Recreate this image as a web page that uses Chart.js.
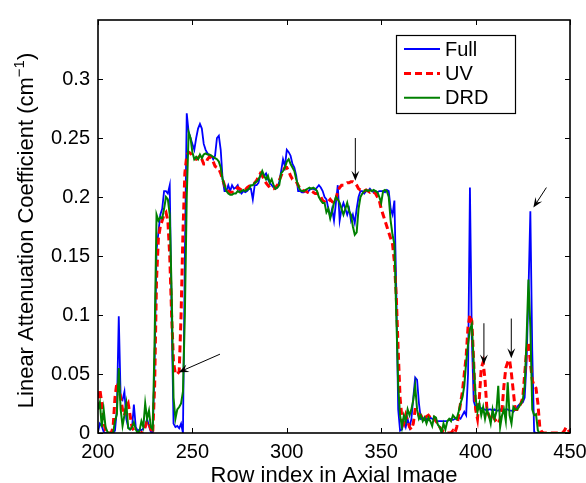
<!DOCTYPE html>
<html>
<head>
<meta charset="utf-8">
<title>Linear attenuation profile</title>
<script src="https://cdn.jsdelivr.net/npm/chart.js@4.4.1/dist/chart.umd.min.js"></script>
<style>
  html, body { margin: 0; padding: 0; background: #fff; }
  #wrap { width: 586px; height: 483px; }
</style>
</head>
<body>
<div id="wrap"><canvas id="profileChart" width="586" height="483"></canvas></div>
<script>
const firstRow = 200;

const fullValues = [
  0.001, 0.008, 0.006, 0.001, 0.0, 0.0, 0.0, 0.001, 0.0, 0.002, // 200
  0.02, 0.099, 0.03, 0.028, 0.035, 0.012, 0.005, 0.003, 0.004, 0.024, // 210
  0.005, 0.002, 0.003, 0.002, 0.004, 0.006, 0.012, 0.006, 0.001, 0.0, // 220
  0.06, 0.155, 0.17, 0.185, 0.19, 0.205, 0.205, 0.203, 0.21, 0.1, // 230
  0.008, 0.005, 0.006, 0.004, 0.008, 0.0, 0.15, 0.271, 0.255, 0.25, // 240
  0.245, 0.24, 0.25, 0.258, 0.262, 0.258, 0.245, 0.24, 0.237, 0.235, // 250
  0.235, 0.232, 0.235, 0.25, 0.252, 0.24, 0.215, 0.205, 0.205, 0.21, // 260
  0.205, 0.21, 0.207, 0.208, 0.21, 0.205, 0.203, 0.205, 0.204, 0.205, // 270
  0.207, 0.207, 0.198, 0.21, 0.21, 0.212, 0.219, 0.22, 0.218, 0.22, // 280
  0.215, 0.212, 0.21, 0.208, 0.207, 0.208, 0.213, 0.222, 0.232, 0.226, // 290
  0.24, 0.238, 0.235, 0.228, 0.225, 0.218, 0.205, 0.205, 0.204, 0.204, // 300
  0.205, 0.204, 0.206, 0.207, 0.207, 0.206, 0.208, 0.21, 0.208, 0.205, // 310
  0.2, 0.198, 0.19, 0.183, 0.19, 0.18, 0.195, 0.21, 0.18, 0.19, // 320
  0.195, 0.19, 0.185, 0.19, 0.18, 0.185, 0.178, 0.19, 0.2, 0.205, // 330
  0.205, 0.203, 0.205, 0.205, 0.207, 0.205, 0.204, 0.205, 0.204, 0.205, // 340
  0.205, 0.205, 0.204, 0.206, 0.205, 0.19, 0.185, 0.197, 0.12, 0.02, // 350
  0.002, 0.003, 0.01, 0.005, 0.012, 0.005, 0.012, 0.03, 0.047, 0.045, // 360
  0.025, 0.012, 0.013, 0.011, 0.012, 0.011, 0.013, 0.012, 0.011, 0.01, // 370
  0.01, 0.01, 0.01, 0.01, 0.01, 0.01, 0.011, 0.012, 0.011, 0.012, // 380
  0.012, 0.013, 0.012, 0.015, 0.018, 0.015, 0.05, 0.208, 0.08, 0.027, // 390
  0.022, 0.024, 0.022, 0.021, 0.02, 0.02, 0.019, 0.02, 0.02, 0.019, // 400
  0.02, 0.019, 0.019, 0.02, 0.019, 0.019, 0.02, 0.02, 0.019, 0.019, // 410
  0.018, 0.02, 0.022, 0.024, 0.025, 0.026, 0.03, 0.06, 0.12, 0.188, // 420
  0.07, 0.001, 0, 0, 0, 0, 0, 0, 0, 0, // 430
  0, 0, 0, 0, 0, 0, 0, 0, 0, 0, // 440
  0 // 450
];

const uvValues = [
  0.02, 0.037, 0.025, 0.01, 0.002, 0.0, 0.0, 0.0, 0.005, 0.03, // 200
  0.043, 0.04, 0.03, 0.02, 0.015, 0.022, 0.025, 0.015, 0.005, 0.002, // 210
  0.0, 0.0, 0.0, 0.0, 0.002, 0.005, 0.01, 0.008, 0.003, 0.0, // 220
  0.04, 0.13, 0.165, 0.175, 0.18, 0.185, 0.187, 0.18, 0.15, 0.1, // 230
  0.06, 0.05, 0.05, 0.052, 0.1, 0.17, 0.22, 0.235, 0.238, 0.237, // 240
  0.235, 0.233, 0.232, 0.233, 0.235, 0.232, 0.228, 0.228, 0.232, 0.234, // 250
  0.233, 0.23, 0.226, 0.225, 0.224, 0.22, 0.215, 0.21, 0.206, 0.205, // 260
  0.204, 0.204, 0.204, 0.206, 0.208, 0.207, 0.206, 0.205, 0.206, 0.208, // 270
  0.209, 0.21, 0.211, 0.212, 0.214, 0.217, 0.22, 0.218, 0.215, 0.212, // 280
  0.21, 0.208, 0.207, 0.207, 0.208, 0.21, 0.214, 0.218, 0.222, 0.225, // 290
  0.225, 0.222, 0.218, 0.215, 0.214, 0.213, 0.21, 0.207, 0.206, 0.205, // 300
  0.205, 0.204, 0.205, 0.205, 0.204, 0.203, 0.203, 0.202, 0.2, 0.197, // 310
  0.196, 0.195, 0.196, 0.198, 0.196, 0.195, 0.198, 0.205, 0.208, 0.21, // 320
  0.21, 0.211, 0.212, 0.212, 0.213, 0.213, 0.212, 0.21, 0.207, 0.206, // 330
  0.206, 0.205, 0.206, 0.205, 0.204, 0.205, 0.204, 0.203, 0.2, 0.197, // 340
  0.19, 0.185, 0.18, 0.175, 0.17, 0.165, 0.16, 0.145, 0.115, 0.07, // 350
  0.03, 0.012, 0.008, 0.015, 0.01, 0.005, 0.003, 0.008, 0.02, 0.02, // 360
  0.015, 0.015, 0.012, 0.013, 0.014, 0.015, 0.013, 0.012, 0.013, 0.01, // 370
  0.008, 0.005, 0.003, 0.001, 0.0, 0.0, 0.0, 0.0, 0.002, 0.0, // 380
  0.005, 0.015, 0.025, 0.035, 0.05, 0.065, 0.09, 0.1, 0.095, 0.06, // 390
  0.02, 0.012, 0.03, 0.055, 0.06, 0.045, 0.02, 0.015, 0.012, 0.015, // 400
  0.012, 0.01, 0.008, 0.012, 0.02, 0.04, 0.055, 0.06, 0.062, 0.05, // 410
  0.035, 0.02, 0.02, 0.022, 0.025, 0.03, 0.05, 0.07, 0.077, 0.06, // 420
  0.045, 0.04, 0.038, 0.025, 0.005, 0.001, 0, 0, 0, 0, // 430
  0, 0, 0, 0, 0, 0, 0, 0.002, 0.005, 0.003, // 440
  0 // 450
];

const drdValues = [
  0.02, 0.026, 0.005, 0.02, 0.005, 0.001, 0.0, 0.0, 0.0, 0.01, // 200
  0.016, 0.055, 0.02, 0.006, 0.015, 0.025, 0.004, 0.003, 0.005, 0.009, // 210
  0.003, 0.0, 0.002, 0.01, 0.005, 0.025, 0.012, 0.019, 0.005, 0.003, // 220
  0.08, 0.185, 0.18, 0.183, 0.182, 0.19, 0.2, 0.198, 0.185, 0.12, // 230
  0.03, 0.012, 0.02, 0.022, 0.025, 0.035, 0.1, 0.2, 0.255, 0.25, // 240
  0.238, 0.232, 0.234, 0.232, 0.236, 0.233, 0.236, 0.237, 0.236, 0.236, // 250
  0.235, 0.234, 0.233, 0.232, 0.23, 0.225, 0.215, 0.21, 0.205, 0.203, // 260
  0.202, 0.202, 0.203, 0.203, 0.205, 0.204, 0.205, 0.206, 0.205, 0.206, // 270
  0.207, 0.21, 0.21, 0.212, 0.213, 0.215, 0.218, 0.222, 0.218, 0.215, // 280
  0.218, 0.212, 0.215, 0.21, 0.207, 0.208, 0.21, 0.22, 0.222, 0.225, // 290
  0.23, 0.232, 0.228, 0.225, 0.222, 0.215, 0.21, 0.206, 0.205, 0.205, // 300
  0.206, 0.207, 0.208, 0.207, 0.208, 0.207, 0.205, 0.2, 0.197, 0.195, // 310
  0.195, 0.187, 0.19, 0.182, 0.188, 0.195, 0.2, 0.198, 0.195, 0.19, // 320
  0.185, 0.19, 0.195, 0.188, 0.185, 0.175, 0.168, 0.17, 0.19, 0.2, // 330
  0.203, 0.205, 0.206, 0.205, 0.206, 0.205, 0.206, 0.205, 0.204, 0.2, // 340
  0.195, 0.205, 0.206, 0.205, 0.2, 0.18, 0.168, 0.16, 0.1, 0.04, // 350
  0.015, 0.005, 0.015, 0.01, 0.02, 0.015, 0.02, 0.028, 0.04, 0.02, // 360
  0.012, 0.015, 0.01, 0.013, 0.008, 0.013, 0.01, 0.006, 0.014, 0.013, // 370
  0.007, 0.005, 0.0, 0.008, 0.003, 0.01, 0.012, 0.01, 0.015, 0.013, // 380
  0.012, 0.018, 0.025, 0.03, 0.04, 0.06, 0.075, 0.088, 0.092, 0.06, // 390
  0.03, 0.018, 0.025, 0.015, 0.022, 0.012, 0.02, 0.015, 0.008, 0.02, // 400
  0.012, 0.018, 0.04, 0.005, 0.015, 0.02, 0.01, 0.043, 0.015, 0.008, // 410
  0.022, 0.02, 0.02, 0.022, 0.025, 0.028, 0.04, 0.08, 0.13, 0.09, // 420
  0.02, 0.015, 0.016, 0.002, 0, 0, 0, 0, 0, 0, // 430
  0, 0, 0, 0, 0, 0, 0, 0, 0, 0, // 440
  0 // 450
];

const seriesNames = ["Full", "UV", "DRD"];
const xTicks = [200, 250, 300, 350, 400, 450];
const yTicks = [0, 0.05, 0.1, 0.15, 0.2, 0.25, 0.3];
const yMax = 0.35;

// annotation arrows: [tailX, tailY, headX, headY] in data units
const arrows = [
  [264.6, 0.0668, 242.8, 0.0515],
  [336.3, 0.25, 336.3, 0.2137],
  [404.4, 0.093, 404.4, 0.058],
  [418.9, 0.097, 418.9, 0.0634],
  [437.5, 0.208, 430.6, 0.191],
];

const rows = fullValues.map((_, i) => firstRow + i);
const toPoints = (vals) => vals.map((v, i) => ({ x: rows[i], y: v }));

const FONT = "'Liberation Sans', Arial, Helvetica, sans-serif";
Chart.defaults.font.family = FONT;
Chart.defaults.color = "#000";

function drawArrow(ctx, x1, y1, x2, y2) {
  const ang = Math.atan2(y2 - y1, x2 - x1);
  const len = 10, half = 4;
  const bx = x2 - len * Math.cos(ang), by = y2 - len * Math.sin(ang);
  const nx = -Math.sin(ang), ny = Math.cos(ang);
  ctx.beginPath();
  ctx.moveTo(x1, y1);
  ctx.lineTo(x2 - 4 * Math.cos(ang), y2 - 4 * Math.sin(ang));
  ctx.stroke();
  ctx.beginPath();
  ctx.moveTo(x2, y2);
  ctx.lineTo(bx + half * nx, by + half * ny);
  ctx.lineTo(x2 - 6 * Math.cos(ang), y2 - 6 * Math.sin(ang));
  ctx.lineTo(bx - half * nx, by - half * ny);
  ctx.closePath();
  ctx.fill();
}

const framePlugin = {
  id: "frame",
  afterDatasetsDraw(chart) {
    const { ctx, chartArea: a, scales: { x, y } } = chart;
    ctx.save();
    ctx.strokeStyle = "#000";
    ctx.fillStyle = "#000";

    // inward tick marks on all four sides
    ctx.lineWidth = 1;
    ctx.beginPath();
    xTicks.forEach((t) => {
      const px = Math.round(x.getPixelForValue(t)) + 0.5;
      ctx.moveTo(px, a.bottom); ctx.lineTo(px, a.bottom - 5);
      ctx.moveTo(px, a.top); ctx.lineTo(px, a.top + 5);
    });
    yTicks.forEach((t) => {
      const py = Math.round(y.getPixelForValue(t)) + 0.5;
      ctx.moveTo(a.left, py); ctx.lineTo(a.left + 5, py);
      ctx.moveTo(a.right, py); ctx.lineTo(a.right - 5, py);
    });
    ctx.stroke();

    ctx.lineWidth = 1.6;
    ctx.strokeRect(a.left, a.top, a.right - a.left, a.bottom - a.top);

    // arrows
    ctx.lineWidth = 1;
    arrows.forEach(([tx, ty, hx, hy]) => {
      drawArrow(ctx, x.getPixelForValue(tx), y.getPixelForValue(ty),
        x.getPixelForValue(hx), y.getPixelForValue(hy));
    });

    // legend box
    const lx = a.right - 174, ly = a.top + 15, lw = 119, lh = 78;
    ctx.fillStyle = "#fff";
    ctx.fillRect(lx, ly, lw, lh);
    ctx.lineWidth = 1.2;
    ctx.strokeRect(lx + 0.5, ly + 0.5, lw, lh);
    ctx.font = "20px " + FONT;
    ctx.textBaseline = "middle";
    ctx.fillStyle = "#000";
    chart.data.datasets.forEach((ds, i) => {
      const yy = ly + 14 + i * 24.4;
      ctx.save();
      ctx.strokeStyle = ds.borderColor;
      ctx.lineWidth = ds.borderWidth;
      ctx.setLineDash(ds.borderDash || []);
      ctx.beginPath();
      ctx.moveTo(lx + 8, yy);
      ctx.lineTo(lx + 44, yy);
      ctx.stroke();
      ctx.restore();
      ctx.fillText(ds.label, lx + 49, yy + 1);
    });

    // axis titles
    ctx.textBaseline = "alphabetic";
    ctx.font = "22px " + FONT;
    ctx.textAlign = "center";
    ctx.fillText("Row index in Axial Image", (a.left + a.right) / 2, 482);

    ctx.save();
    ctx.translate(33, (a.top + a.bottom) / 2 + 4);
    ctx.rotate(-Math.PI / 2);
    ctx.textAlign = "left";
    const main = "Linear Attenuation Coefficient (cm";
    const sup = "\u22121";
    const close = ")";
    ctx.font = "22px " + FONT;
    const wMain = ctx.measureText(main).width;
    const wClose = ctx.measureText(close).width;
    ctx.font = "15px " + FONT;
    const wSup = ctx.measureText(sup).width;
    let sx = -(wMain + wSup + wClose) / 2;
    ctx.font = "22px " + FONT;
    ctx.fillText(main, sx, 0);
    sx += wMain;
    ctx.font = "15px " + FONT;
    ctx.fillText(sup, sx, -9);
    sx += wSup;
    ctx.font = "22px " + FONT;
    ctx.fillText(close, sx, 0);
    ctx.restore();

    ctx.restore();
  },
};

const ctx = document.getElementById("profileChart").getContext("2d");

const profileChart = new Chart(ctx, {
  type: "line",
  data: {
    datasets: [
      {
        label: seriesNames[0],
        data: toPoints(fullValues),
        borderColor: "#0000ff",
        borderWidth: 1.8,
        order: 3,
      },
      {
        label: seriesNames[1],
        data: toPoints(uvValues),
        borderColor: "#ff0000",
        borderWidth: 3,
        borderDash: [7, 4],
        order: 2,
      },
      {
        label: seriesNames[2],
        data: toPoints(drdValues),
        borderColor: "#008000",
        borderWidth: 2,
        order: 1,
      },
    ],
  },
  options: {
    responsive: false,
    animation: false,
    layout: { padding: { top: 13, right: 16, left: 0, bottom: 0 } },
    elements: {
      point: { radius: 0, hoverRadius: 0 },
      line: { tension: 0, fill: false },
    },
    plugins: {
      legend: { display: false },
      tooltip: { enabled: false },
    },
    scales: {
      x: {
        type: "linear",
        min: xTicks[0],
        max: xTicks[xTicks.length - 1],
        grid: { display: false, drawTicks: false },
        border: { display: false },
        afterBuildTicks: (scale) => {
          scale.ticks = xTicks.map((v) => ({ value: v }));
        },
        afterFit: (scale) => {
          scale.height = 50;
          scale.paddingLeft = 0;
          scale.paddingRight = 0;
        },
        ticks: {
          font: { size: 20 },
          padding: 7,
          maxRotation: 0,
          callback: (v) => String(v),
        },
      },
      y: {
        min: 0,
        max: yMax,
        grid: { display: false, drawTicks: false },
        border: { display: false },
        afterBuildTicks: (scale) => {
          scale.ticks = yTicks.map((v) => ({ value: v }));
        },
        afterFit: (scale) => {
          scale.width = 98;
        },
        ticks: {
          font: { size: 20 },
          padding: 8,
          callback: (v) => String(v),
        },
      },
    },
  },
  plugins: [framePlugin],
});
</script>
</body>
</html>
